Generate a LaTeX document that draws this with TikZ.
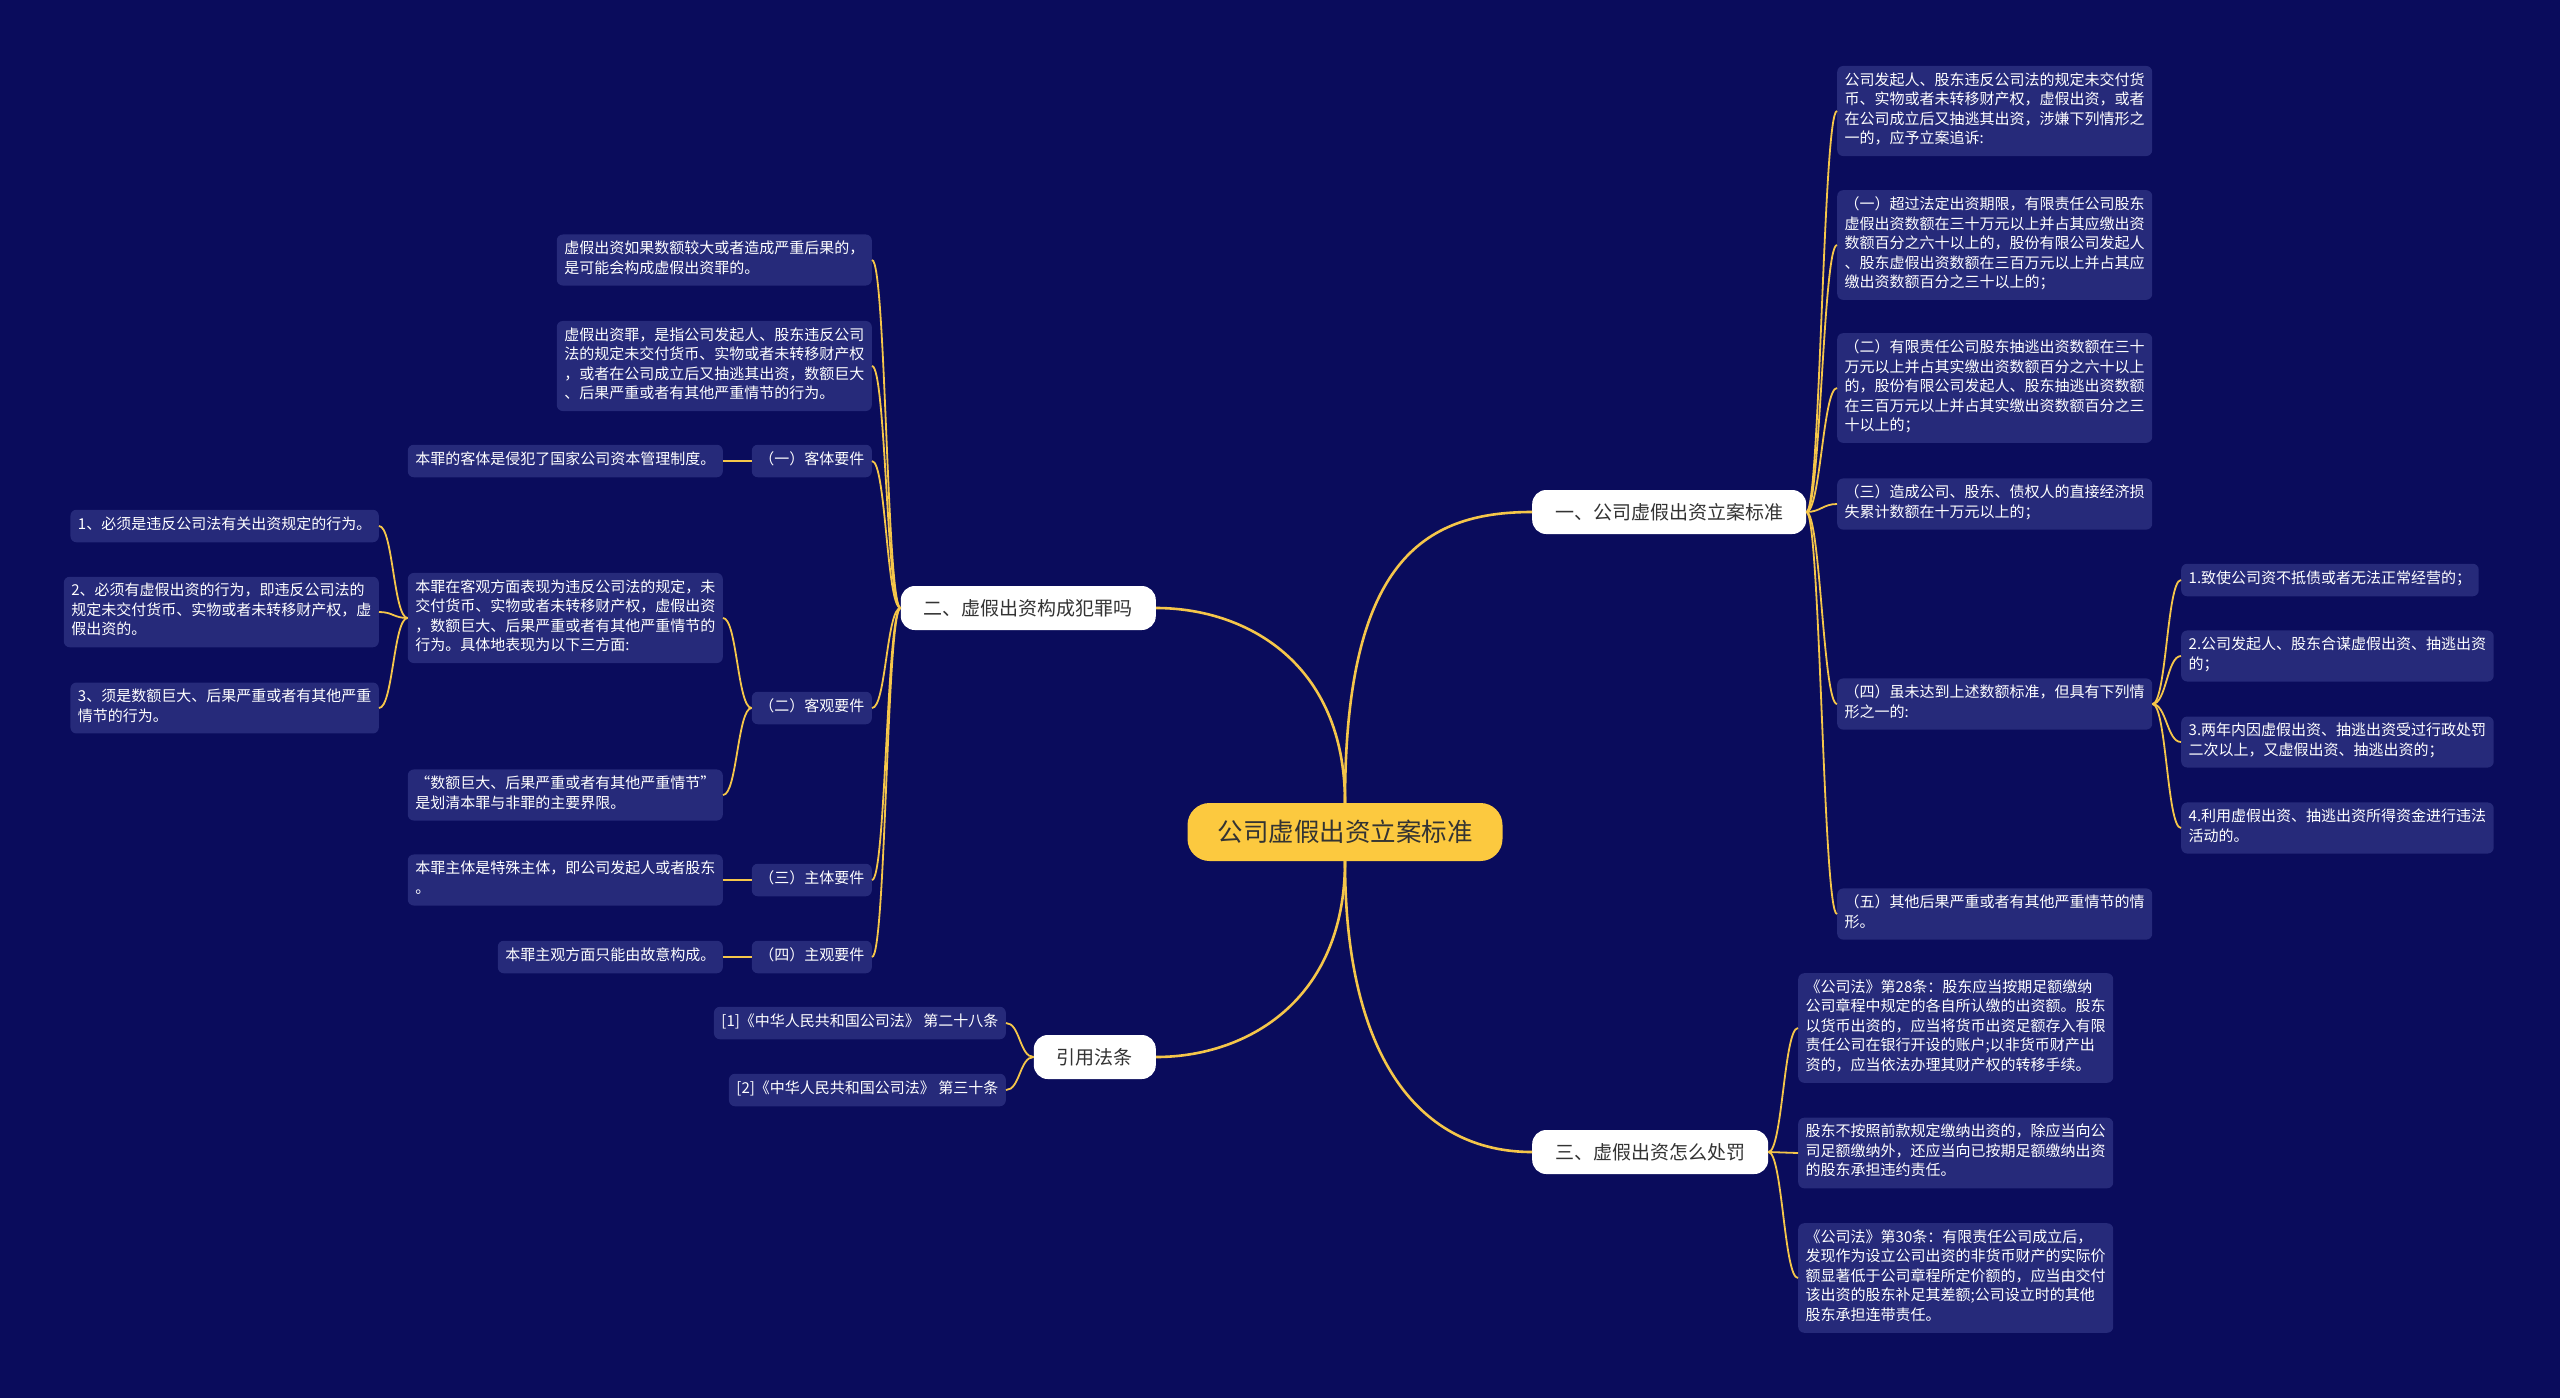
\documentclass[tikz,border=0pt]{standalone}
\usepackage{fontspec}
\newfontfamily\cjk{Noto Sans CJK SC}
\usetikzlibrary{calc}
\definecolor{bg}{HTML}{0A0C5C}
\definecolor{leaf}{HTML}{262A7A}
\definecolor{gold}{HTML}{F5C64A}
\definecolor{cent}{HTML}{FCC93F}
\definecolor{dark}{HTML}{333333}
\tikzset{
  leafbox/.style={fill=leaf, rounded corners=6pt, text=white,
    font=\cjk\fontsize{15}{19.5}\selectfont, align=left,
    inner xsep=7.5pt, inner ysep=6.5pt,
    execute at begin node=\strut, execute at end node=\strut},
  branch/.style={fill=white, rounded corners=14pt, text=dark,
    font=\cjk\fontsize{19}{23}\selectfont, minimum height=44pt, inner xsep=23pt},
  centre/.style={fill=cent, rounded corners=22pt, text=dark,
    font=\cjk\fontsize{25.5}{30}\selectfont, minimum width=315pt, minimum height=58pt},
  link/.style={draw=gold, line width=1.8pt},
  mainlink/.style={draw=gold, line width=2.6pt},
}
\newcommand\lnkR[2]{\draw[link] (#1.east) .. controls ($(#1.east)+(14,0)$) and ($(#2.west)+(-14,0)$) .. (#2.west);}
\newcommand\lnkL[2]{\draw[link] (#1.west) .. controls ($(#1.west)+(-14,0)$) and ($(#2.east)+(14,0)$) .. (#2.east);}
\begin{document}
\begin{tikzpicture}[x=1pt,y=-1pt]
\fill[bg] (0,0) rectangle (2560,1398);
\useasboundingbox (0,0) rectangle (2560,1398);

% centre and branches
\node[centre] (c) at (1345,832) {公司虚假出资立案标准};
\node[branch, anchor=west] (b1) at (1532,512) {一、公司虚假出资立案标准};
\node[branch, anchor=east] (b2) at (1156,608) {二、虚假出资构成犯罪吗};
\node[branch, anchor=east] (b3) at (1156,1057) {引用法条};
\node[branch, anchor=west] (b4) at (1532,1152) {三、虚假出资怎么处罚};

% branch 1 leaves
\node[leafbox, anchor=west] (r1) at (1837,111) {公司发起人、股东违反公司法的规定未交付货\\币、实物或者未转移财产权，虚假出资，或者\\在公司成立后又抽逃其出资，涉嫌下列情形之\\一的，应予立案追诉:};
\node[leafbox, anchor=west] (r2) at (1837,245) {（一）超过法定出资期限，有限责任公司股东\\虚假出资数额在三十万元以上并占其应缴出资\\数额百分之六十以上的，股份有限公司发起人\\、股东虚假出资数额在三百万元以上并占其应\\缴出资数额百分之三十以上的；};
\node[leafbox, anchor=west] (r3) at (1837,388) {（二）有限责任公司股东抽逃出资数额在三十\\万元以上并占其实缴出资数额百分之六十以上\\的，股份有限公司发起人、股东抽逃出资数额\\在三百万元以上并占其实缴出资数额百分之三\\十以上的；};
\node[leafbox, anchor=west] (r4) at (1837,504) {（三）造成公司、股东、债权人的直接经济损\\失累计数额在十万元以上的；};
\node[leafbox, anchor=west] (r5) at (1837,704) {（四）虽未达到上述数额标准，但具有下列情\\形之一的:};
\node[leafbox, anchor=west] (r6) at (1837,914) {（五）其他后果严重或者有其他严重情节的情\\形。};

\node[leafbox, anchor=west] (s1) at (2181,580) {1.致使公司资不抵债或者无法正常经营的；};
\node[leafbox, anchor=west] (s2) at (2181,656) {2.公司发起人、股东合谋虚假出资、抽逃出资\\的；};
\node[leafbox, anchor=west] (s3) at (2181,742) {3.两年内因虚假出资、抽逃出资受过行政处罚\\二次以上，又虚假出资、抽逃出资的；};
\node[leafbox, anchor=west] (s4) at (2181,828) {4.利用虚假出资、抽逃出资所得资金进行违法\\活动的。};

% branch 2 leaves
\node[leafbox, anchor=east] (l1) at (872,260) {虚假出资如果数额较大或者造成严重后果的，\\是可能会构成虚假出资罪的。};
\node[leafbox, anchor=east] (l2) at (872,366) {虚假出资罪，是指公司发起人、股东违反公司\\法的规定未交付货币、实物或者未转移财产权\\，或者在公司成立后又抽逃其出资，数额巨大\\、后果严重或者有其他严重情节的行为。};
\node[leafbox, anchor=east] (k1) at (872,461) {（一）客体要件};
\node[leafbox, anchor=east] (k2) at (872,708) {（二）客观要件};
\node[leafbox, anchor=east] (k3) at (872,880) {（三）主体要件};
\node[leafbox, anchor=east] (k4) at (872,957) {（四）主观要件};

\node[leafbox, anchor=east] (k1c) at (723,461) {本罪的客体是侵犯了国家公司资本管理制度。};
\node[leafbox, anchor=east] (k2a) at (723,618) {本罪在客观方面表现为违反公司法的规定，未\\交付货币、实物或者未转移财产权，虚假出资\\，数额巨大、后果严重或者有其他严重情节的\\行为。具体地表现为以下三方面:};
\node[leafbox, anchor=east] (k2b) at (723,795) {“数额巨大、后果严重或者有其他严重情节”\\是划清本罪与非罪的主要界限。};
\node[leafbox, anchor=east] (k3c) at (723,880) {本罪主体是特殊主体，即公司发起人或者股东\\。};
\node[leafbox, anchor=east] (k4c) at (723,957) {本罪主观方面只能由故意构成。};

\node[leafbox, anchor=east] (o1) at (379,526) {1、必须是违反公司法有关出资规定的行为。};
\node[leafbox, anchor=east] (o2) at (379,612) {2、必须有虚假出资的行为，即违反公司法的\\规定未交付货币、实物或者未转移财产权，虚\\假出资的。};
\node[leafbox, anchor=east] (o3) at (379,708) {3、须是数额巨大、后果严重或者有其他严重\\情节的行为。};

% branch 3 (citations)
\node[leafbox, anchor=east] (f1) at (1006,1023) {[1]《中华人民共和国公司法》 第二十八条};
\node[leafbox, anchor=east] (f2) at (1006,1090) {[2]《中华人民共和国公司法》 第三十条};

% branch 4 leaves
\node[leafbox, anchor=west] (p1) at (1798,1028) {《公司法》第28条：股东应当按期足额缴纳\\公司章程中规定的各自所认缴的出资额。股东\\以货币出资的，应当将货币出资足额存入有限\\责任公司在银行开设的账户;以非货币财产出\\资的，应当依法办理其财产权的转移手续。};
\node[leafbox, anchor=west] (p2) at (1798,1153) {股东不按照前款规定缴纳出资的，除应当向公\\司足额缴纳外，还应当向已按期足额缴纳出资\\的股东承担违约责任。};
\node[leafbox, anchor=west] (p3) at (1798,1278) {《公司法》第30条：有限责任公司成立后，\\发现作为设立公司出资的非货币财产的实际价\\额显著低于公司章程所定价额的，应当由交付\\该出资的股东补足其差额;公司设立时的其他\\股东承担连带责任。};

% main connectors
\draw[mainlink] (c.north) .. controls ($(c.north)+(0,-240)$) and ($(b1.west)+(-110,0)$) .. (b1.west);
\draw[mainlink] (c.north) .. controls ($(c.north)+(0,-140)$) and ($(b2.east)+(90,0)$) .. (b2.east);
\draw[mainlink] (c.south) .. controls ($(c.south)+(0,140)$) and ($(b3.east)+(90,0)$) .. (b3.east);
\draw[mainlink] (c.south) .. controls ($(c.south)+(0,200)$) and ($(b4.west)+(-110,0)$) .. (b4.west);

% sub connectors
\lnkR{b1}{r1}\lnkR{b1}{r2}\lnkR{b1}{r3}\lnkR{b1}{r4}\lnkR{b1}{r5}\lnkR{b1}{r6}
\lnkR{r5}{s1}\lnkR{r5}{s2}\lnkR{r5}{s3}\lnkR{r5}{s4}
\lnkL{b2}{l1}\lnkL{b2}{l2}\lnkL{b2}{k1}\lnkL{b2}{k2}\lnkL{b2}{k3}\lnkL{b2}{k4}
\lnkL{k1}{k1c}\lnkL{k2}{k2a}\lnkL{k2}{k2b}\lnkL{k3}{k3c}\lnkL{k4}{k4c}
\lnkL{k2a}{o1}\lnkL{k2a}{o2}\lnkL{k2a}{o3}
\lnkL{b3}{f1}\lnkL{b3}{f2}
\lnkR{b4}{p1}\lnkR{b4}{p2}\lnkR{b4}{p3}
\end{tikzpicture}
\end{document}
